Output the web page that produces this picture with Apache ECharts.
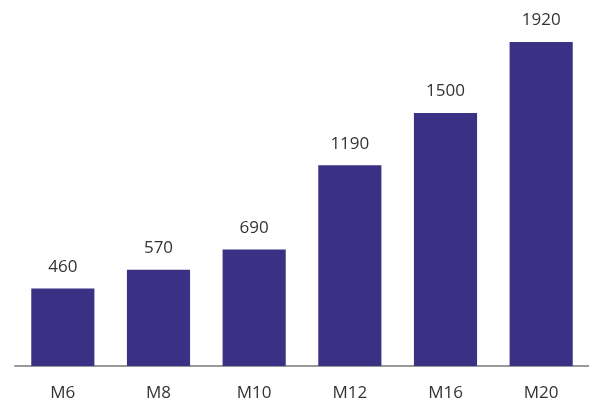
<!DOCTYPE html>
<html><head><meta charset="utf-8">
<script src="https://cdn.jsdelivr.net/npm/echarts@6/dist/echarts.min.js"></script>
<style>html,body{margin:0;padding:0;background:#fff}#c{width:589px;height:406px}</style>
</head><body><div id="c"></div>
<script>
const categories = ['M6','M8','M10','M12','M16','M20'];
const values = [460, 570, 690, 1190, 1500, 1920];
const chart = echarts.init(document.getElementById('c'));
chart.setOption({
  animation: false,
  grid: {left: 15, right: 0, top: 42, bottom: 40},
  xAxis: {
    type: 'category', data: categories,
    axisLine: {lineStyle: {color: '#999', width: 2}},
    axisTick: {show: false},
    axisLabel: {color: '#333', fontSize: 17, margin: 19, fontFamily: 'Open Sans'}
  },
  yAxis: {type: 'value', min: 0, max: 1920, show: false, splitLine: {show: false}},
  series: [{
    type: 'bar', data: values, barCategoryGap: '34%',
    itemStyle: {color: '#3a3184'},
    label: {show: true, position: 'top', distance: 13, color: '#333', fontSize: 17, fontFamily: 'Open Sans'}
  }]
});
</script></body></html>
